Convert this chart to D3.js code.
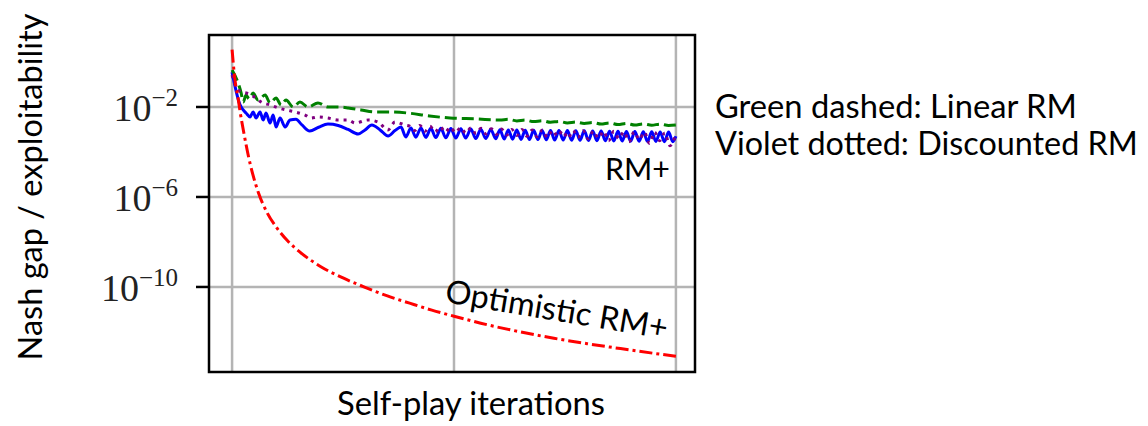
<!DOCTYPE html>
<html>
<head>
<meta charset="utf-8">
<script src="https://cdn.jsdelivr.net/npm/d3@7"></script>
<style>
  body { margin: 0; background: #fff; }
  svg { display: block; }
</style>
</head>
<body>
<div id="chart"></div>
<script>
// values: [iteration, log10(gap)]
var optimisticRM = [[0,0.55],[13,-0.8],[27,-1.6],[36,-2.2],[54,-3.2],[75,-4.25],[95,-5.05],[120,-5.85],
  [158,-6.7],[200,-7.35],[250,-7.95],[306,-8.45],[400,-9.1],[500,-9.6],[608,-10.05],[700,-10.4],
  [800,-10.72],[900,-11.03],[1000,-11.3],[1150,-11.68],[1300,-12.0],[1450,-12.28],[1600,-12.52],
  [1750,-12.74],[1900,-12.95],[2000,-13.08]];

var rmPlus = [[0,-0.45],[36,-1.91],[50,-2.13],[63,-2.27],[81,-2.44],[95,-2.22],[108,-2.49],[126,-2.22],
  [140,-2.58],[153,-2.27],[171,-2.71],[185,-2.36],[198,-2.89],[216,-2.49],[239,-2.89],[261,-2.58],
  [288,-2.55],[315,-2.8],[350,-3.07],[390,-2.9],[432,-2.76],[478,-2.82],[523,-3.0],[568,-3.2],
  [599,-3.02],[630,-2.8],[667,-3.02],[703,-3.29],[734,-3.05],[761,-2.89],
  [783,-3.33],[806,-2.93],[828,-3.34],[851,-2.93],[873,-3.35],[896,-2.95],[918,-3.36],[941,-2.95],
  [963,-3.37],[986,-2.96],[1008,-3.38],[1031,-2.97],[1053,-3.38],[1076,-2.98],[1098,-3.40],[1121,-2.99],
  [1143,-3.40],[1166,-3.00],[1188,-3.41],[1207,-3.01],[1226,-3.42],[1245,-3.02],[1264,-3.43],[1283,-3.02],
  [1302,-3.44],[1321,-3.03],[1340,-3.45],[1359,-3.03],[1378,-3.45],[1397,-3.04],[1416,-3.46],[1435,-3.04],
  [1454,-3.47],[1473,-3.05],[1492,-3.47],[1511,-3.05],[1530,-3.48],[1549,-3.06],[1568,-3.48],[1587,-3.06],
  [1606,-3.49],[1625,-3.07],[1644,-3.50],[1663,-3.07],[1682,-3.50],[1701,-3.08],[1720,-3.51],[1739,-3.08],
  [1758,-3.51],[1777,-3.09],[1796,-3.52],[1815,-3.09],[1834,-3.52],[1853,-3.10],[1872,-3.53],[1891,-3.10],
  [1910,-3.53],[1929,-3.11],[1948,-3.54],[1967,-3.11],[1986,-3.54],[2000,-3.3]];

var linearRM = [[0,-0.36],[27,-0.93],[41,-1.38],[50,-1.78],[63,-1.47],[77,-1.64],[95,-1.38],[117,-1.69],
  [149,-1.47],[171,-1.82],[198,-1.6],[221,-1.91],[243,-1.69],[275,-2.0],[306,-1.78],[342,-2.0],
  [387,-1.82],[432,-2.0],[478,-2.0],[523,-2.04],[581,-2.13],[644,-2.22],[703,-2.22],[793,-2.27],
  [890,-2.4],[982,-2.49],[1100,-2.53],[1207,-2.58],[1245,-2.55],[1283,-2.62],[1321,-2.58],[1359,-2.65],
  [1397,-2.61],[1435,-2.68],[1473,-2.64],[1511,-2.71],[1549,-2.67],[1587,-2.73],[1625,-2.69],[1663,-2.76],
  [1701,-2.71],[1739,-2.78],[1777,-2.73],[1815,-2.8],[1853,-2.75],[1891,-2.81],[1929,-2.76],[1967,-2.82],
  [2000,-2.8]];

var discountedRM = [[0,-0.58],[18,-1.11],[41,-1.33],[63,-1.38],[86,-1.47],[108,-1.6],[131,-1.78],[171,-1.91],
  [207,-2.04],[243,-2.13],[284,-2.22],[329,-2.36],[356,-2.49],[387,-2.44],[432,-2.49],[478,-2.58],
  [523,-2.58],[554,-2.71],[613,-2.58],[658,-2.67],[703,-3.02],[734,-2.67],[779,-2.8],
  [800,-2.85],[823,-3.05],[846,-2.82],[869,-3.08],[892,-2.86],[915,-3.1],[938,-2.88],[961,-3.12],
  [984,-2.9],[1007,-3.14],[1030,-2.92],[1053,-3.16],[1076,-2.93],[1099,-3.18],[1122,-2.95],[1145,-3.2],
  [1168,-2.97],[1191,-3.22],[1214,-2.98],[1237,-3.25],[1260,-3.0],[1283,-3.27],[1306,-3.0],[1329,-3.3],
  [1352,-3.02],[1375,-3.32],[1398,-3.02],[1421,-3.35],[1444,-3.04],[1467,-3.3],[1490,-3.05],[1513,-3.4],
  [1536,-3.05],[1559,-3.35],[1582,-3.06],[1605,-3.42],[1628,-3.07],[1651,-3.38],[1674,-3.08],[1697,-3.5],
  [1720,-3.08],[1743,-3.4],[1766,-3.1],[1789,-3.55],[1812,-3.1],[1835,-3.45],[1858,-3.12],[1881,-3.62],
  [1904,-3.12],[1927,-3.5],[1950,-3.15],[1973,-3.72],[2000,-3.2]];

var xGrid = [0, 1000, 2000];
var yTickExp = [-2, -6, -10];

var width = 1148, height = 426;

var svg = d3.select("#chart").append("svg")
  .attr("width", width)
  .attr("height", height);

// scales (plot frame 209..695 x 35..372)
var x = d3.scaleLinear().domain([-104, 2086]).range([209, 695]);
var y = d3.scaleLog().domain([Math.pow(10, 1.2), Math.pow(10, -13.78)]).range([35, 372]);

var x0 = x.range()[0], x1 = x.range()[1], y0 = y.range()[0], y1 = y.range()[1];

// grid
svg.append("g").selectAll("line.vg")
  .data(xGrid).enter().append("line")
  .attr("x1", d => x(d)).attr("x2", d => x(d))
  .attr("y1", y0).attr("y2", y1)
  .attr("stroke", "#b4b4b4").attr("stroke-width", 2.5);

svg.append("g").selectAll("line.hg")
  .data(yTickExp).enter().append("line")
  .attr("x1", x0).attr("x2", x1)
  .attr("y1", d => y(Math.pow(10, d))).attr("y2", d => y(Math.pow(10, d)))
  .attr("stroke", "#b4b4b4").attr("stroke-width", 2.5);

// lines
var line = d3.line()
  .x(d => x(d[0]))
  .y(d => y(Math.pow(10, d[1])))
  .curve(d3.curveMonotoneX);

var plot = svg.append("g");

plot.append("path").datum(rmPlus)
  .attr("d", line).attr("fill", "none")
  .attr("stroke", "#0000ff").attr("stroke-width", 3);

plot.append("path").datum(linearRM)
  .attr("d", line).attr("fill", "none")
  .attr("stroke", "#008000").attr("stroke-width", 3)
  .attr("stroke-dasharray", "12,5");

plot.append("path").datum(discountedRM)
  .attr("d", line).attr("fill", "none")
  .attr("stroke", "#800080").attr("stroke-width", 3)
  .attr("stroke-dasharray", "3,5");

plot.append("path").datum(optimisticRM)
  .attr("d", line).attr("fill", "none")
  .attr("stroke", "#ff0000").attr("stroke-width", 3)
  .attr("stroke-dasharray", "13,4,3,4");

// frame
svg.append("rect")
  .attr("x", x0).attr("y", y0)
  .attr("width", x1 - x0).attr("height", y1 - y0)
  .attr("fill", "none").attr("stroke", "#000").attr("stroke-width", 2.5);

// y ticks + labels
var yAxis = svg.append("g");
yAxis.selectAll("line")
  .data(yTickExp).enter().append("line")
  .attr("x1", x0 - 13).attr("x2", x0)
  .attr("y1", d => y(Math.pow(10, d))).attr("y2", d => y(Math.pow(10, d)))
  .attr("stroke", "#000").attr("stroke-width", 2.5);

var lab = yAxis.selectAll("text")
  .data(yTickExp).enter().append("text")
  .attr("x", 178)
  .attr("y", d => y(Math.pow(10, d)) + 14)
  .attr("text-anchor", "end")
  .style("font-family", "'Liberation Serif', 'DejaVu Serif', serif")
  .style("font-size", "38px")
  .attr("fill", "#222");
lab.append("tspan").text("10");
lab.append("tspan")
  .attr("dy", -15)
  .style("font-size", "25px")
  .text(d => "\u2212" + Math.abs(d));

// text helper: fit to measured width
function fit(sel, w) {
  var n = sel.node();
  var fs = parseFloat(sel.style("font-size"));
  var len = n.getComputedTextLength();
  sel.style("font-size", (fs * w / len) + "px");
  return sel;
}

var sans = "Lato, 'Open Sans', 'Liberation Sans', sans-serif";

var yt = svg.append("text")
  .attr("transform", "translate(42,187) rotate(-90)")
  .attr("text-anchor", "middle")
  .style("font-family", sans).style("font-size", "34px")
  .text("Nash gap / exploitability");
fit(yt, 347);

var xt = svg.append("text")
  .attr("x", 471).attr("y", 415)
  .attr("text-anchor", "middle")
  .style("font-family", sans).style("font-size", "34px")
  .text("Self-play iterations");
fit(xt, 268);

var l1 = svg.append("text")
  .attr("x", 715).attr("y", 118)
  .style("font-family", sans).style("font-size", "34px")
  .text("Green dashed: Linear RM");
fit(l1, 362);

var l2 = svg.append("text")
  .attr("x", 715).attr("y", 155)
  .style("font-family", sans).style("font-size", "34px")
  .text("Violet dotted: Discounted RM");
fit(l2, 423);

var rt = svg.append("text")
  .attr("x", 670).attr("y", 180)
  .attr("text-anchor", "end")
  .style("font-family", sans).style("font-size", "34px")
  .text("RM+");
fit(rt, 65);

var ot = svg.append("text")
  .attr("transform", "translate(444,302) rotate(9.5)")
  .style("font-family", sans).style("font-size", "34px")
  .text("Optimistic RM+");
fit(ot, 225);
</script>
</body>
</html>
